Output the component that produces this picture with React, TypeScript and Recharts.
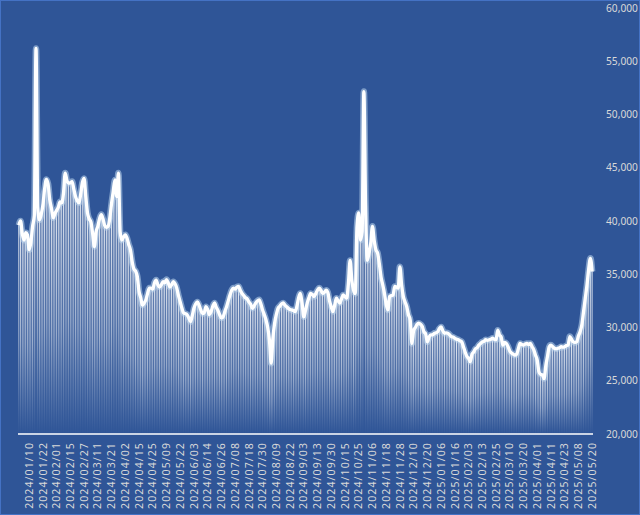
// Daily value chart: thin fading bars under a smoothed white line,
// right-hand value axis, rotated date labels every 8 trading days.
import React from "react";
import { ComposedChart, Bar, Line, XAxis, YAxis } from "recharts";

// daily values, first trading day 2024/01/02 through 2025/05/20
const VALUES = [
  39600, 40000, 38800, 38200, 38900, 38700, 37300, 38000, 39500, 40500,
  56200, 41300, 40100, 40600, 41500, 43000, 43900, 43500, 42000, 41200,
  40300, 40700, 41000, 41300, 41800, 41700, 42600, 44500, 43800, 43550,
  43600, 43700, 43000, 42300, 41900, 41700, 42500, 43600, 44000, 42300,
  40750, 40200, 39900, 38800, 37600, 39000, 39500, 40200, 40600, 40200,
  39600, 39400, 39500, 40300, 41650, 42800, 43850, 42300, 44500, 39000,
  38200, 38500, 38700, 38400, 37800, 37300, 36200, 35500, 35300, 34800,
  33400, 32800, 32100, 32300, 32600, 33200, 33700, 33700, 33600, 34200,
  34450, 34000, 33800, 34000, 34300, 34200, 34500, 34200, 33800, 34000,
  34300, 34100, 33700, 33000, 32400, 31800, 31350, 31300, 31200, 30900,
  30550, 31100, 31800, 32200, 32400, 32100, 31650, 31300, 31400, 31950,
  31700, 31200, 31500, 32000, 32300, 31900, 31600, 31200, 30900, 31000,
  31500, 31950, 32500, 33050, 33500, 33700, 33600, 33800, 33850, 33500,
  33200, 33000, 32800, 32700, 32400, 32200, 31800, 32000, 32300, 32500,
  32600, 32200, 31650, 31200, 30700, 30000, 28800, 26650, 29000, 30400,
  31200, 31800, 32000, 32200, 32300, 32100, 31950, 31800, 31700, 31650,
  31600, 31500, 32000, 32800, 33200, 32300, 31000, 31600, 32300, 32800,
  33200, 33100, 32900, 33200, 33500, 33700, 33500, 33200, 33300, 33500,
  33300, 32500, 31950, 31500, 32100, 32750, 32500, 32300, 32700, 33050,
  32900, 32750, 34150, 36300, 34450, 33500, 33200, 39500, 40750, 38200,
  39000, 52150, 41500, 36300, 37000, 37900, 39500, 38200, 37300, 37000,
  36000, 34750, 34000, 33200, 32200, 31650, 32900, 33000, 33050, 33850,
  33800, 33700, 35700, 34000, 32900, 32400, 31950, 31200, 30700, 28500,
  29700, 30000, 30300, 30400, 30300, 30100, 29600, 29400, 28650, 29100,
  29300, 29300, 29450, 29500, 29600, 29900, 30050, 29700, 29450, 29500,
  29450, 29300, 29150, 29100, 29000, 28900, 28850, 28750, 28650, 28200,
  27700, 27300, 27100, 26800, 27500, 27700, 28000, 28100, 28350, 28500,
  28650, 28700, 28850, 28800, 28850, 28900, 29000, 28900, 28850, 29750,
  29300, 29100, 28350, 28600, 28500, 28200, 27800, 27600, 27500, 27400,
  27500, 28000, 28500, 28400, 28350, 28450, 28500, 28400, 28500, 28200,
  27900, 27400, 26950, 25850, 25600, 25550, 25200, 26400, 27300, 28200,
  28350, 28200, 28050, 28000, 28050, 28100, 28200, 28150, 28200, 28300,
  28350, 29150, 28900, 28650, 28600, 28650, 29200, 29600, 30250, 31500,
  32750, 34000, 35500, 36500, 35250,
];

// date labels shown on the axis, one every 8 trading days
const TICK_LABELS = [
  "2024/01/10", "2024/01/22", "2024/02/01", "2024/02/15", "2024/02/27",
  "2024/03/11", "2024/03/21", "2024/04/02", "2024/04/15", "2024/04/25",
  "2024/05/09", "2024/05/22", "2024/06/03", "2024/06/14", "2024/06/26",
  "2024/07/08", "2024/07/18", "2024/07/30", "2024/08/09", "2024/08/22",
  "2024/09/03", "2024/09/13", "2024/09/30", "2024/10/15", "2024/10/25",
  "2024/11/06", "2024/11/18", "2024/11/28", "2024/12/10", "2024/12/20",
  "2025/01/06", "2025/01/16", "2025/02/03", "2025/02/13", "2025/02/25",
  "2025/03/10", "2025/03/20", "2025/04/01", "2025/04/11", "2025/04/23",
  "2025/05/08", "2025/05/20",
];
const FIRST_TICK = 6;
const TICK_STEP = 8;

const Y_TICKS = [20000, 25000, 30000, 35000, 40000, 45000, 50000, 55000, 60000];

const BG = "#2F5597";
const TEXT = "#D9D9D9";

const data = VALUES.map((value, i) => ({ i, value }));

function labelAt(i: number): string {
  if (i < FIRST_TICK || (i - FIRST_TICK) % TICK_STEP !== 0) return "";
  return TICK_LABELS[(i - FIRST_TICK) / TICK_STEP] ?? "";
}

function DateTick(props: any) {
  const { x, y, payload } = props;
  const label = labelAt(Number(payload.value));
  if (!label) return <g />;
  return (
    <text
      x={x}
      y={y}
      transform={`rotate(-90 ${x} ${y})`}
      textAnchor="end"
      dy="0.35em"
      fill={TEXT}
      fontSize={10.5}
      letterSpacing={1.1}
      fontFamily="'Noto Sans', sans-serif"
    >
      {label}
    </text>
  );
}

export default function App() {
  return (
    <div
      style={{
        width: 640,
        height: 515,
        background: BG,
        border: "1px solid #4472C4",
        boxSizing: "border-box",
        position: "relative",
        overflow: "hidden",
      }}
    >
      <style>{"body{margin:0}"}</style>
      <div style={{ position: "absolute", left: -1, top: -1 }}>
        <ComposedChart
          width={640}
          height={515}
          data={data}
          margin={{ top: 8, right: 0, left: 18, bottom: 0 }}
          barCategoryGap="18%"
        >
          <defs>
            <linearGradient id="barFade" x1="0" y1="0" x2="0" y2="1">
              <stop offset="0%" stopColor="#FFFFFF" stopOpacity={0.9} />
              <stop offset="55%" stopColor="#FFFFFF" stopOpacity={0.55} />
              <stop offset="100%" stopColor="#FFFFFF" stopOpacity={0} />
            </linearGradient>
          </defs>
          <XAxis
            dataKey="i"
            type="category"
            interval={0}
            tick={(p: any) => <DateTick {...p} />}
            tickLine={false}
            axisLine={{ stroke: "#FFFFFF", strokeWidth: 1.5 }}
            height={81}
          />
          <YAxis
            orientation="right"
            domain={[20000, 60000]}
            ticks={Y_TICKS}
            allowDataOverflow
            width={47}
            axisLine={false}
            tickLine={false}
            tickMargin={7}
            tick={{ fill: TEXT, fontSize: 10.2, fontFamily: "'Noto Sans', sans-serif" }}
            tickFormatter={(v: number) => v.toLocaleString("en-US")}
          />
          <Bar dataKey="value" fill="url(#barFade)" isAnimationActive={false} />
          <Line
            type="monotone"
            dataKey="value"
            stroke="#BDD7EE"
            strokeOpacity={0.55}
            strokeWidth={6.5}
            dot={false}
            activeDot={false}
            isAnimationActive={false}
          />
          <Line
            type="monotone"
            dataKey="value"
            stroke="#FFFFFF"
            strokeWidth={3.3}
            dot={false}
            activeDot={false}
            isAnimationActive={false}
          />
        </ComposedChart>
      </div>
    </div>
  );
}
